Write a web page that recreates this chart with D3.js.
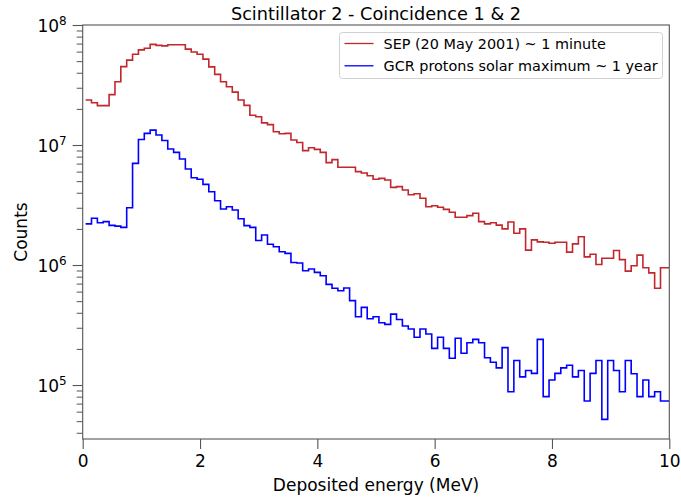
<!DOCTYPE html>
<html>
<head>
<meta charset="utf-8">
<script src="https://cdn.jsdelivr.net/npm/d3@7"></script>
<style>
  body { margin: 0; background: #fff; }
  text { font-family: "DejaVu Sans", sans-serif; fill: #000; }
</style>
</head>
<body>
<svg width="681" height="502"></svg>
<script>
// counts per 0.1 MeV bin
const sepCounts = [
  2.37e7, 2.25e7, 2.13e7, 2.13e7, 2.63e7, 3.37e7, 4.5e7, 5.1e7, 5.7e7, 6.2e7,
  6.4e7, 6.9e7, 6.77e7, 6.7e7, 6.85e7, 6.85e7, 6.85e7, 6.3e7, 5.96e7, 5.7e7,
  5.2e7, 4.48e7, 3.88e7, 3.37e7, 3.06e7, 2.76e7, 2.37e7, 2.14e7, 1.77e7, 1.72e7,
  1.53e7, 1.48e7, 1.29e7, 1.24e7, 1.25e7, 1.10e7, 1.05e7, 8.97e6, 9.5e6, 9.2e6,
  8.69e6, 7.13e6, 7.55e6, 6.52e6, 6.52e6, 6.52e6, 6.0e6, 5.85e6, 5.55e6, 5.18e6,
  5.27e6, 5.11e6, 4.44e6, 4.5e6, 4.22e6, 3.85e6, 3.93e6, 3.6e6, 3.06e6, 3.12e6,
  3.03e6, 2.91e6, 2.75e6, 2.5e6, 2.5e6, 2.58e6, 2.7e6, 2.3e6, 2.2e6, 2.25e6,
  2.15e6, 2.0e6, 2.28e6, 1.84e6, 2.0e6, 1.33e6, 1.62e6, 1.56e6, 1.55e6, 1.52e6,
  1.55e6, 1.55e6, 1.28e6, 1.5e6, 1.72e6, 1.17e6, 1.23e6, 1.01e6, 1.14e6, 1.14e6,
  1.32e6, 1.11e6, 8.9e5, 9.87e5, 1.21e6, 9.5e5, 8.6e5, 6.4e5, 9.5e5, 9.5e5
];
const gcrCounts = [
  2.2e6, 2.45e6, 2.25e6, 2.3e6, 2.14e6, 2.11e6, 2.06e6, 3.0e6, 7.03e6, 1.11e7,
  1.25e7, 1.33e7, 1.21e7, 1.09e7, 9.27e6, 8.69e6, 7.64e6, 6.31e6, 5.34e6, 5.18e6,
  4.7e6, 4.08e6, 3.43e6, 2.93e6, 3.06e6, 2.87e6, 2.43e6, 2.13e6, 2.06e6, 1.6e6,
  1.78e6, 1.49e6, 1.42e6, 1.29e6, 1.25e6, 1.05e6, 1.04e6, 8.97e5, 9.26e5, 8.69e5,
  8.15e5, 6.9e5, 6.4e5, 6.1e5, 6.43e5, 5.05e5, 3.71e5, 4.44e5, 3.57e5, 3.71e5,
  3.3e5, 3.2e5, 3.9e5, 3.52e5, 3.1e5, 2.93e5, 2.5e5, 2.93e5, 2.66e5, 2.02e5,
  2.5e5, 2.02e5, 1.67e5, 2.45e5, 1.84e5, 2.25e5, 2.4e5, 2.25e5, 1.69e5, 1.55e5,
  1.39e5, 2.05e5, 8.8e4, 1.6e5, 1.17e5, 1.32e5, 1.25e5, 2.4e5, 8.0e4, 1.1e5,
  1.25e5, 1.39e5, 1.46e5, 1.17e5, 1.32e5, 7.36e4, 1.25e5, 1.6e5, 5.17e4, 1.6e5,
  1.32e5, 8.8e4, 1.6e5, 1.24e5, 8.0e4, 1.1e5, 8.0e4, 8.8e4, 7.36e4, 7.36e4
];
const seriesNames = ['SEP (20 May 2001) ~ 1 minute', 'GCR protons solar maximum ~ 1 year'];
const seriesColors = ['#c1272d', '#0000ff'];
const xTicks = [0, 2, 4, 6, 8, 10];
const yMajorTicks = [1e5, 1e6, 1e7, 1e8];
const yMinorMult = [2, 3, 4, 5, 6, 7, 8, 9];

const binWidth = 0.1;
const binCenters = sepCounts.map((_, i) => +(binWidth / 2 + i * binWidth).toFixed(2));

const svg = d3.select('svg');
const width = +svg.attr('width');
const height = +svg.attr('height');
const margin = { top: 25, right: 11.7, bottom: 63, left: 82.7 };
const innerWidth = width - margin.left - margin.right;
const innerHeight = height - margin.top - margin.bottom;

const g = svg.append('g').attr('transform', `translate(${margin.left},${margin.top})`);

const x = d3.scaleLinear().domain([0, 10]).range([0, innerWidth]);
const y = d3.scaleLog().domain([3.55e4, 1e8]).range([innerHeight, 0]);

g.append('clipPath').attr('id', 'plot-clip')
  .append('rect').attr('width', innerWidth).attr('height', innerHeight);

// step lines (post style, last bin held to the edge)
const line = d3.line()
  .x(d => x(d[0]))
  .y(d => y(d[1]))
  .curve(d3.curveStepAfter);

[sepCounts, gcrCounts].forEach((counts, s) => {
  const pts = counts.map((c, i) => [binCenters[i], c]);
  pts.push([10, counts[counts.length - 1]]);
  g.append('path')
    .datum(pts)
    .attr('clip-path', 'url(#plot-clip)')
    .attr('fill', 'none')
    .attr('stroke', seriesColors[s])
    .attr('stroke-width', 1.6)
    .attr('d', line);
});

// x axis
const axisColor = '#555';
const xAxisG = g.append('g')
  .attr('transform', `translate(0,${innerHeight})`)
  .call(d3.axisBottom(x).tickValues(xTicks).tickSize(10).tickPadding(6).tickFormat(d3.format('d')));
xAxisG.select('.domain').remove();
xAxisG.selectAll('.tick line').attr('stroke', axisColor).attr('stroke-width', 1.1);
xAxisG.selectAll('.tick text').style('font-size', '17px').attr('fill', '#000');

// y axis, minor then major
const yMinor = [];
[4, 5, 6, 7].forEach(p => yMinorMult.forEach(m => {
  const v = m * Math.pow(10, p);
  if (v >= y.domain()[0] && v <= y.domain()[1]) yMinor.push(v);
}));
const yMinorG = g.append('g').call(d3.axisLeft(y).tickValues(yMinor).tickSize(6).tickFormat(''));
yMinorG.select('.domain').remove();
yMinorG.selectAll('.tick line').attr('stroke', axisColor).attr('stroke-width', 1);

const yMajorG = g.append('g').call(d3.axisLeft(y).tickValues(yMajorTicks).tickSize(10).tickFormat(''));
yMajorG.select('.domain').remove();
yMajorG.selectAll('.tick line').attr('stroke', axisColor).attr('stroke-width', 1.1);
const yLab = yMajorG.selectAll('.tick').append('text')
  .attr('x', -16)
  .attr('dy', '0.36em')
  .attr('text-anchor', 'end')
  .style('font-size', '17px');
yLab.append('tspan').text('10');
yLab.append('tspan')
  .attr('dy', '-0.55em')
  .style('font-size', '12px')
  .text(d => Math.round(Math.log10(d)));

// frame
g.append('rect')
  .attr('width', innerWidth)
  .attr('height', innerHeight)
  .attr('fill', 'none')
  .attr('stroke', axisColor)
  .attr('stroke-width', 1.1);

// labels
svg.append('text')
  .attr('x', margin.left + innerWidth / 2)
  .attr('y', 20)
  .attr('text-anchor', 'middle')
  .style('font-size', '17.7px')
  .text('Scintillator 2 - Coincidence 1 & 2');

svg.append('text')
  .attr('x', margin.left + innerWidth / 2)
  .attr('y', 491)
  .attr('text-anchor', 'middle')
  .style('font-size', '17px')
  .text('Deposited energy (MeV)');

svg.append('text')
  .attr('transform', `translate(27,${margin.top + innerHeight / 2}) rotate(-90)`)
  .attr('text-anchor', 'middle')
  .style('font-size', '17px')
  .text('Counts');

// legend
const legend = svg.append('g').attr('transform', 'translate(339.5,32.5)');
legend.append('rect')
  .attr('width', 323)
  .attr('height', 46)
  .attr('rx', 3)
  .attr('fill', '#fff')
  .attr('fill-opacity', 0.8)
  .attr('stroke', '#d0d0d0');
seriesNames.forEach((name, i) => {
  const row = legend.append('g').attr('transform', `translate(0,${11 + i * 22.3})`);
  row.append('line')
    .attr('x1', 5).attr('x2', 34)
    .attr('stroke', seriesColors[i])
    .attr('stroke-width', 1.3);
  row.append('text')
    .attr('x', 44)
    .attr('dy', '0.36em')
    .style('font-size', '14.4px')
    .text(name);
});
</script>
</body>
</html>
